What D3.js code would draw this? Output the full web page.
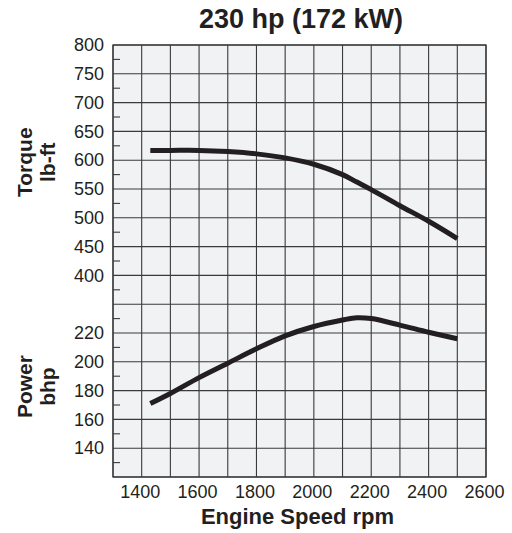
<!DOCTYPE html>
<html>
<head>
<meta charset="utf-8">
<script src="https://cdn.jsdelivr.net/npm/d3@7"></script>
<style>
  body { margin: 0; background: #fff; }
  text { font-family: "Liberation Sans", Arial, Helvetica, sans-serif; fill: #231f20; }
</style>
</head>
<body>
<script>
// chart data
var rpm    = [1430, 1500, 1600, 1700, 1800, 1900, 2000, 2100, 2150, 2200, 2300, 2400, 2500];
var torque = [617, 617, 617, 615, 611, 604, 593, 575, 562, 549, 521, 494, 464];
var power  = [171, 178, 189, 199, 209, 218, 224.5, 229, 230.6, 230, 225.5, 220.5, 216];

var xTicks = [1400, 1600, 1800, 2000, 2200, 2400, 2600];
var torqueTicks = [400, 450, 500, 550, 600, 650, 700, 750, 800];
var powerTicks = [140, 160, 180, 200, 220];

// SVG area
var svgWidth = 512;
var svgHeight = 533;
var margin = { top: 45, right: 26, bottom: 56, left: 113 };
var width = svgWidth - margin.left - margin.right;
var height = svgHeight - margin.top - margin.bottom;

var svg = d3.select("body")
  .append("svg")
  .attr("width", svgWidth)
  .attr("height", svgHeight);

var chart = svg.append("g")
  .attr("transform", `translate(${margin.left}, ${margin.top})`);

// scales: both y scales share the same pixel grid
var x = d3.scaleLinear().domain([1300, 2600]).range([0, width]);
var yT = d3.scaleLinear().domain([50, 800]).range([height, 0]);
var yP = d3.scaleLinear().domain([120, 420]).range([height, 0]);

// plot background
chart.append("rect")
  .attr("width", width)
  .attr("height", height)
  .attr("fill", "#f1f2f4");

// grid lines
chart.append("g")
  .selectAll("line")
  .data(d3.range(1300, 2601, 100))
  .enter()
  .append("line")
  .attr("x1", d => x(d)).attr("x2", d => x(d))
  .attr("y1", 0).attr("y2", height)
  .attr("stroke", "#3a3a3a")
  .attr("stroke-width", 1.1);

chart.append("g")
  .selectAll("line")
  .data(d3.range(50, 801, 50))
  .enter()
  .append("line")
  .attr("x1", 0).attr("x2", width)
  .attr("y1", d => yT(d)).attr("y2", d => yT(d))
  .attr("stroke", "#3a3a3a")
  .attr("stroke-width", 1.1);

// small inner ticks on left edge at half steps
chart.append("g")
  .selectAll("line")
  .data(d3.range(75, 800, 50))
  .enter()
  .append("line")
  .attr("x1", 0).attr("x2", 7)
  .attr("y1", d => yT(d)).attr("y2", d => yT(d))
  .attr("stroke", "#3a3a3a")
  .attr("stroke-width", 1.1);

// border
chart.append("rect")
  .attr("width", width)
  .attr("height", height)
  .attr("fill", "none")
  .attr("stroke", "#3a3a3a")
  .attr("stroke-width", 1.3);

// axes (labels only)
var xAxis = d3.axisBottom(x).tickValues(xTicks).tickFormat(d3.format("d")).tickSize(0).tickPadding(0);
var gx = chart.append("g")
  .attr("transform", `translate(0, ${height})`)
  .call(xAxis);
gx.select(".domain").remove();
gx.selectAll("text")
  .attr("dy", "1.15em")
  .attr("dx", -2);

var gyT = chart.append("g")
  .call(d3.axisLeft(yT).tickValues(torqueTicks).tickSize(0).tickPadding(9));
gyT.select(".domain").remove();

var gyP = chart.append("g")
  .call(d3.axisLeft(yP).tickValues(powerTicks).tickSize(0).tickPadding(9));
gyP.select(".domain").remove();

svg.selectAll(".tick text")
  .attr("fill", "#231f20")
  .style("font-size", "18px")
  .style("font-family", "'Liberation Sans', Arial, sans-serif");

// curves
var torqueLine = d3.line()
  .x((d, i) => x(rpm[i]))
  .y(d => yT(d))
  .curve(d3.curveCatmullRom);

var powerLine = d3.line()
  .x((d, i) => x(rpm[i]))
  .y(d => yP(d))
  .curve(d3.curveCatmullRom);

chart.append("path")
  .attr("d", torqueLine(torque))
  .attr("fill", "none")
  .attr("stroke", "#231f20")
  .attr("stroke-width", 5);

chart.append("path")
  .attr("d", powerLine(power))
  .attr("fill", "none")
  .attr("stroke", "#231f20")
  .attr("stroke-width", 5);

// titles
svg.append("text")
  .attr("x", 301)
  .attr("y", 28)
  .attr("text-anchor", "middle")
  .style("font-size", "27px")
  .style("font-weight", "bold")
  .text("230 hp (172 kW)");

svg.append("text")
  .attr("x", margin.left + width / 2 - 2)
  .attr("y", 524)
  .attr("text-anchor", "middle")
  .style("font-size", "22px")
  .style("font-weight", "bold")
  .text("Engine Speed rpm");

function sideLabel(lines, cy) {
  lines.forEach(function(t, i) {
    svg.append("text")
      .attr("transform", `translate(${31.5 + i * 23}, ${cy}) rotate(-90)`)
      .attr("text-anchor", "middle")
      .style("font-size", "21px")
      .style("font-weight", "bold")
      .text(t);
  });
}
sideLabel(["Torque", "lb-ft"], margin.top + yT(600) + 2);
sideLabel(["Power", "bhp"], margin.top + yP(180) - 4);
</script>
</body>
</html>
